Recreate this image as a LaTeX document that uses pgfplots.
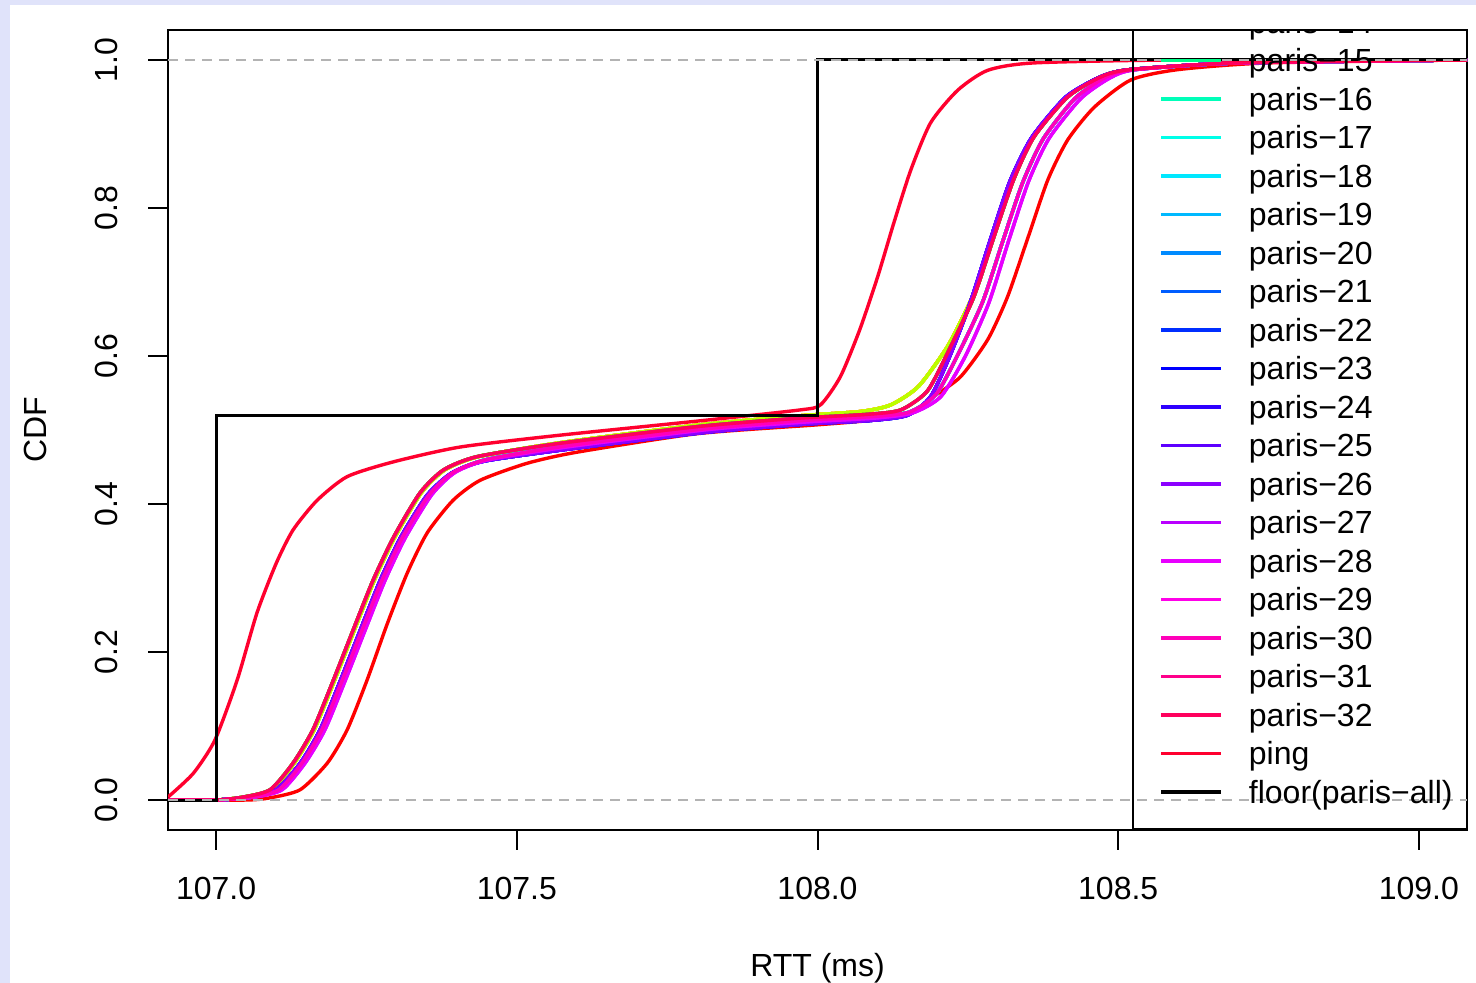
\documentclass[border=0pt]{standalone}
\usepackage{fontspec}
\setmainfont{Liberation Sans}
\usepackage{pgfplots}
\usepackage{pgfplotstable}
\pgfplotsset{compat=1.18}

\definecolor{bgl}{RGB}{224,227,250}
\definecolor{gray70}{RGB}{179,179,179}
\definecolor{p1}{hsb}{0.0000,1,1}
\definecolor{p2}{hsb}{0.0303,1,1}
\definecolor{p3}{hsb}{0.0606,1,1}
\definecolor{p4}{hsb}{0.0909,1,1}
\definecolor{p5}{hsb}{0.1212,1,1}
\definecolor{p6}{hsb}{0.1515,1,1}
\definecolor{p7}{hsb}{0.1818,1,1}
\definecolor{p8}{hsb}{0.2121,1,1}
\definecolor{p9}{hsb}{0.2424,1,1}
\definecolor{p10}{hsb}{0.2727,1,1}
\definecolor{p11}{hsb}{0.3030,1,1}
\definecolor{p12}{hsb}{0.3333,1,1}
\definecolor{p13}{hsb}{0.3636,1,1}
\definecolor{p14}{hsb}{0.3939,1,1}
\definecolor{p15}{hsb}{0.4242,1,1}
\definecolor{p16}{hsb}{0.4545,1,1}
\definecolor{p17}{hsb}{0.4848,1,1}
\definecolor{p18}{hsb}{0.5152,1,1}
\definecolor{p19}{hsb}{0.5455,1,1}
\definecolor{p20}{hsb}{0.5758,1,1}
\definecolor{p21}{hsb}{0.6061,1,1}
\definecolor{p22}{hsb}{0.6364,1,1}
\definecolor{p23}{hsb}{0.6667,1,1}
\definecolor{p24}{hsb}{0.6970,1,1}
\definecolor{p25}{hsb}{0.7273,1,1}
\definecolor{p26}{hsb}{0.7576,1,1}
\definecolor{p27}{hsb}{0.7879,1,1}
\definecolor{p28}{hsb}{0.8182,1,1}
\definecolor{p29}{hsb}{0.8485,1,1}
\definecolor{p30}{hsb}{0.8788,1,1}
\definecolor{p31}{hsb}{0.9091,1,1}
\definecolor{p32}{hsb}{0.9394,1,1}
\definecolor{pping}{hsb}{0.9697,1,1}

% main pink bundle (left edge)
\pgfplotstableread{
x y
106.920 0.000
107.000 0.000
107.045 0.004
107.090 0.014
107.128 0.050
107.161 0.095
107.195 0.162
107.228 0.230
107.261 0.297
107.295 0.355
107.339 0.415
107.378 0.446
107.434 0.464
107.572 0.482
107.805 0.505
107.970 0.516
108.080 0.521
108.138 0.527
108.183 0.553
108.221 0.612
108.260 0.680
108.293 0.760
108.326 0.838
108.360 0.896
108.416 0.950
108.471 0.977
108.520 0.987
108.700 0.996
109.080 1.000
}\Tp

% pink bundle (right part of the band)
\pgfplotstableread{
x y
106.920 0.000
107.000 0.000
107.060 0.004
107.105 0.014
107.143 0.050
107.176 0.095
107.210 0.162
107.243 0.230
107.276 0.297
107.310 0.355
107.354 0.412
107.393 0.442
107.449 0.460
107.587 0.479
107.818 0.502
107.980 0.513
108.090 0.518
108.152 0.524
108.197 0.548
108.236 0.606
108.275 0.674
108.308 0.755
108.341 0.834
108.375 0.893
108.428 0.948
108.480 0.977
108.527 0.987
108.700 0.996
109.080 1.000
}\Tq

% yellow-green group
\pgfplotstableread{
x y
106.920 0.000
107.000 0.000
107.047 0.004
107.092 0.014
107.130 0.050
107.163 0.095
107.197 0.162
107.230 0.230
107.263 0.297
107.297 0.355
107.341 0.415
107.380 0.446
107.436 0.464
107.574 0.483
107.805 0.507
107.968 0.519
108.072 0.525
108.122 0.534
108.168 0.559
108.217 0.614
108.258 0.681
108.292 0.760
108.325 0.838
108.359 0.896
108.415 0.950
108.470 0.977
108.520 0.987
108.700 0.996
109.080 1.000
}\Tg

% blue / violet group
\pgfplotstableread{
x y
106.920 0.000
107.000 0.000
107.055 0.004
107.100 0.014
107.140 0.050
107.173 0.095
107.207 0.162
107.240 0.230
107.273 0.297
107.307 0.355
107.351 0.412
107.392 0.442
107.446 0.458
107.584 0.474
107.815 0.497
107.980 0.508
108.090 0.513
108.150 0.520
108.188 0.545
108.220 0.600
108.254 0.672
108.287 0.756
108.320 0.836
108.356 0.895
108.413 0.950
108.470 0.977
108.520 0.987
108.700 0.996
109.080 1.000
}\Tb

% magenta group
\pgfplotstableread{
x y
106.920 0.000
107.000 0.000
107.064 0.004
107.110 0.014
107.148 0.050
107.181 0.095
107.215 0.162
107.248 0.230
107.281 0.297
107.315 0.355
107.359 0.413
107.398 0.443
107.454 0.460
107.592 0.478
107.823 0.501
107.985 0.511
108.095 0.516
108.158 0.523
108.205 0.545
108.246 0.600
108.285 0.672
108.318 0.756
108.351 0.836
108.385 0.894
108.438 0.948
108.487 0.976
108.530 0.987
108.700 0.996
109.080 1.000
}\Tm

% paris-1 (red)
\pgfplotstableread{
x y
106.920 0.000
107.050 0.000
107.090 0.003
107.140 0.014
107.185 0.050
107.218 0.095
107.251 0.162
107.285 0.239
107.318 0.307
107.351 0.361
107.394 0.405
107.439 0.432
107.517 0.455
107.600 0.470
107.800 0.495
108.000 0.507
108.100 0.514
108.160 0.525
108.193 0.545
108.238 0.572
108.283 0.622
108.316 0.680
108.350 0.760
108.383 0.838
108.416 0.892
108.460 0.936
108.521 0.973
108.600 0.987
108.750 0.996
109.080 1.000
}\Tred

% ping
\pgfplotstableread{
x y
106.920 0.004
106.962 0.036
106.998 0.081
107.035 0.162
107.068 0.253
107.100 0.320
107.128 0.365
107.168 0.405
107.218 0.437
107.295 0.457
107.406 0.477
107.572 0.493
107.800 0.512
107.970 0.527
108.005 0.534
108.038 0.572
108.070 0.635
108.100 0.707
108.127 0.780
108.155 0.851
108.188 0.915
108.233 0.959
108.283 0.986
108.360 0.996
108.600 1.000
109.080 1.000
}\Tping

% floor(paris-all)
\pgfplotstableread{
x y
106.920 0.000
107.000 0.000
107.000 0.520
108.000 0.520
108.000 1.000
109.080 1.000
}\Tfloor

\pgfplotsset{
  commonaxis/.style={
    at={(84pt,76.5pt)}, anchor=south west,
    scale only axis, width=649.5pt, height=400pt,
    xmin=106.92, xmax=109.08, ymin=-0.0405, ymax=1.0405,
  },
  curve/.style={line width=1.7pt, smooth, tension=0.4},
}

\begin{document}
\begin{tikzpicture}
\fill[bgl] (0,0) rectangle (738pt,491.5pt);
\fill[white] (5pt,0) rectangle (738pt,489pt);
\begin{axis}[
  commonaxis,
  xtick={107,107.5,108,108.5,109},
  ytick={0,0.2,0.4,0.6,0.8,1},
  xtick pos=left, ytick pos=left,
  tick align=outside,
  major tick length=10pt,
  every tick/.style={black, line width=1pt},
  axis line style={line width=1pt},
  font=\fontsize{16}{19}\selectfont,
  /pgf/number format/assume math mode=true,
  scaled x ticks=false, scaled y ticks=false,
  xticklabel style={inner sep=0pt, anchor=north, font=\fontsize{16}{19}\selectfont,
    /pgf/number format/fixed, /pgf/number format/fixed zerofill, /pgf/number format/precision=1},
  yticklabel style={inner sep=0pt, rotate=90, anchor=south, font=\fontsize{16}{19}\selectfont,
    /pgf/number format/fixed, /pgf/number format/fixed zerofill, /pgf/number format/precision=1},
  xticklabel shift=13.3pt,
  yticklabel shift=15pt,
  xlabel={RTT (ms)}, ylabel={CDF},
  every axis x label/.style={at={(rel axis cs:0.5,0)}, anchor=base, yshift=-73.5pt},
  every axis y label/.style={at={(rel axis cs:0,0.5)}, xshift=-61pt, rotate=90, anchor=base},
]
\addplot[curve, p1] table[x=x,y=y] {\Tred};
\addplot[curve, p2] table[x=x,y=y] {\Tg};
\addplot[curve, p3] table[x=x,y=y] {\Tg};
\addplot[curve, p4] table[x=x,y=y] {\Tg};
\addplot[curve, p5] table[x=x,y=y] {\Tg};
\addplot[curve, p6] table[x=x,y=y] {\Tg};
\addplot[curve, p7] table[x=x,y=y] {\Tg};
\addplot[curve, p8] table[x=x,y=y] {\Tg};
\addplot[curve, p9] table[x=x,y=y] {\Tp};
\addplot[curve, p10] table[x=x,y=y] {\Tp};
\addplot[curve, p11] table[x=x,y=y] {\Tp};
\addplot[curve, p12] table[x=x,y=y] {\Tp};
\addplot[curve, p13] table[x=x,y=y] {\Tq};
\addplot[curve, p14] table[x=x,y=y] {\Tq};
\addplot[curve, p15] table[x=x,y=y] {\Tq};
\addplot[curve, p16] table[x=x,y=y] {\Tq};
\addplot[curve, p17] table[x=x,y=y] {\Tq};
\addplot[curve, p18] table[x=x,y=y] {\Tq};
\addplot[curve, p19] table[x=x,y=y] {\Tq};
\addplot[curve, p20] table[x=x,y=y] {\Tb};
\addplot[curve, p21] table[x=x,y=y] {\Tb};
\addplot[curve, p22] table[x=x,y=y] {\Tb};
\addplot[curve, p23] table[x=x,y=y] {\Tb};
\addplot[curve, p24] table[x=x,y=y] {\Tb};
\addplot[curve, p25] table[x=x,y=y] {\Tb};
\addplot[curve, p26] table[x=x,y=y] {\Tb};
\addplot[curve, p27] table[x=x,y=y] {\Tm};
\addplot[curve, p28] table[x=x,y=y] {\Tm};
\addplot[curve, p29] table[x=x,y=y] {\Tq};
\addplot[curve, p30] table[x=x,y=y] {\Tq};
\addplot[curve, p31] table[x=x,y=y] {\Tp};
\addplot[curve, p32] table[x=x,y=y] {\Tp};
\addplot[curve, pping] table[x=x,y=y] {\Tping};
\addplot[black, line width=1.5pt, sharp plot] table[x=x,y=y] {\Tfloor};
\addplot[gray70, line width=1pt, sharp plot, dash pattern=on 5pt off 3.5pt] coordinates {(106.92,0) (109.08,0)};
\addplot[gray70, line width=1pt, sharp plot, dash pattern=on 5pt off 3.5pt] coordinates {(106.92,1) (109.08,1)};
\end{axis}
\begin{scope}
\clip (84pt,76.5pt) rectangle (733.5pt,476.5pt);
\begin{axis}[
  commonaxis, hide axis,
  legend style={at={(rel axis cs:0.74190,0)}, anchor=south west, draw=black, line width=1pt,
    fill=none, inner xsep=13.5pt, inner ysep=8.9pt, row sep=0pt, column sep=13pt,
    font=\fontsize{16}{19}\selectfont,
    nodes={inner sep=0pt, text height=15.3pt, text depth=3.95pt}},
  legend cell align=left,
  legend image code/.code={\draw[#1] (0pt,0pt) -- (30pt,0pt);},
]
\addlegendimage{p1, line width=1.6pt} \addlegendentry{paris−1}
\addlegendimage{p2, line width=1.6pt} \addlegendentry{paris−2}
\addlegendimage{p3, line width=1.6pt} \addlegendentry{paris−3}
\addlegendimage{p4, line width=1.6pt} \addlegendentry{paris−4}
\addlegendimage{p5, line width=1.6pt} \addlegendentry{paris−5}
\addlegendimage{p6, line width=1.6pt} \addlegendentry{paris−6}
\addlegendimage{p7, line width=1.6pt} \addlegendentry{paris−7}
\addlegendimage{p8, line width=1.6pt} \addlegendentry{paris−8}
\addlegendimage{p9, line width=1.6pt} \addlegendentry{paris−9}
\addlegendimage{p10, line width=1.6pt} \addlegendentry{paris−10}
\addlegendimage{p11, line width=1.6pt} \addlegendentry{paris−11}
\addlegendimage{p12, line width=1.6pt} \addlegendentry{paris−12}
\addlegendimage{p13, line width=1.6pt} \addlegendentry{paris−13}
\addlegendimage{p14, line width=1.6pt} \addlegendentry{paris−14}
\addlegendimage{p15, line width=1.6pt} \addlegendentry{paris−15}
\addlegendimage{p16, line width=1.6pt} \addlegendentry{paris−16}
\addlegendimage{p17, line width=1.6pt} \addlegendentry{paris−17}
\addlegendimage{p18, line width=1.6pt} \addlegendentry{paris−18}
\addlegendimage{p19, line width=1.6pt} \addlegendentry{paris−19}
\addlegendimage{p20, line width=1.6pt} \addlegendentry{paris−20}
\addlegendimage{p21, line width=1.6pt} \addlegendentry{paris−21}
\addlegendimage{p22, line width=1.6pt} \addlegendentry{paris−22}
\addlegendimage{p23, line width=1.6pt} \addlegendentry{paris−23}
\addlegendimage{p24, line width=1.6pt} \addlegendentry{paris−24}
\addlegendimage{p25, line width=1.6pt} \addlegendentry{paris−25}
\addlegendimage{p26, line width=1.6pt} \addlegendentry{paris−26}
\addlegendimage{p27, line width=1.6pt} \addlegendentry{paris−27}
\addlegendimage{p28, line width=1.6pt} \addlegendentry{paris−28}
\addlegendimage{p29, line width=1.6pt} \addlegendentry{paris−29}
\addlegendimage{p30, line width=1.6pt} \addlegendentry{paris−30}
\addlegendimage{p31, line width=1.6pt} \addlegendentry{paris−31}
\addlegendimage{p32, line width=1.6pt} \addlegendentry{paris−32}
\addlegendimage{pping, line width=1.6pt} \addlegendentry{ping}
\addlegendimage{black, line width=1.6pt} \addlegendentry{\makebox[115pt][l]{floor(paris−all)}}
\end{axis}
\end{scope}
\pgfresetboundingbox
\useasboundingbox (0,0) rectangle (738pt,491.5pt);
\end{tikzpicture}
\end{document}
